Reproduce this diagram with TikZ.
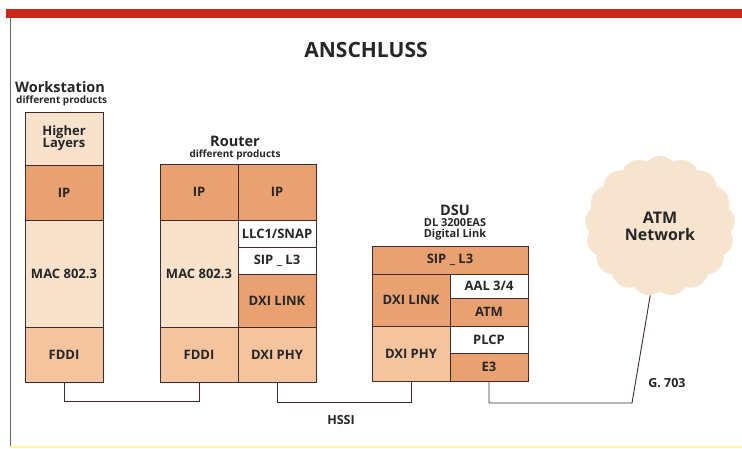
\documentclass[tikz,border=0pt]{standalone}
\usepackage{fontspec}
\setmainfont{Open Sans}
\usetikzlibrary{positioning, shapes.symbols}

\definecolor{lightfill}{HTML}{F8E2CB}
\definecolor{midfill}{HTML}{F3C49E}
\definecolor{darkfill}{HTML}{EAA172}
\definecolor{cloudfill}{HTML}{F6E4CF}
\definecolor{linebrown}{HTML}{3E2C2C}
\definecolor{barred}{HTML}{C52A1A}

\begin{document}
\begin{tikzpicture}[
                x=1pt, y=-1pt,
                cell/.style={rectangle, draw=linebrown, line width=0.7pt, inner sep=0pt, outer sep=0pt, minimum width=78pt, align=center, font=\fontsize{13}{14}\selectfont\bfseries, text=black!85},
                lightcell/.style={cell, fill=lightfill},
                midcell/.style={cell, fill=midfill},
                darkcell/.style={cell, fill=darkfill},
                whitecell/.style={cell, fill=white},
                heading/.style={font=\fontsize{14.5}{16}\selectfont\bfseries, text=black!85, inner sep=0pt},
                subheading/.style={font=\fontsize{10}{11}\selectfont\bfseries, text=black!85, inner sep=0pt},
                tag/.style={font=\fontsize{12.5}{14}\selectfont\bfseries, text=black!85},
                link/.style={draw=linebrown, line width=0.9pt},
                ]
                \useasboundingbox (0,0) rectangle (742,448);
                %Frame
                \fill[barred] (6,9) rectangle (742,18);
                \draw[black!60, line width=0.8pt] (10,18) -- (10,447);
                \draw[yellow!40, line width=1.2pt] (10,447) -- (742,447);
                \node[font=\fontsize{21}{24}\selectfont\bfseries, text=black!85] (title) at (366,50) {ANSCHLUSS};

                %Workstation
                \node[heading, anchor=west]    (wsname)  at (15,87)  {Workstation};
                \node[subheading, anchor=west] (wssub)   at (16,101) {different products};
                \node[lightcell, minimum height=53]  (wshigh)  at (64,138.5) {Higher\\[-2pt]Layers};
                \node[darkcell, minimum height=55]   (wsip)    [below=0pt of wshigh] {IP};
                \node[lightcell, minimum height=107] (wsmac)   [below=0pt of wsip] {MAC 802.3};
                \node[midcell, minimum height=55]    (wsfddi)  [below=0pt of wsmac] {FDDI};

                %Router
                \node[heading]    (rname) at (235,141) {Router};
                \node[subheading] (rsub)  at (235,155) {different products};
                \node[darkcell, minimum height=56]   (rlip)    at (199,192) {IP};
                \node[lightcell, minimum height=107] (rlmac)   [below=0pt of rlip] {MAC 802.3};
                \node[midcell, minimum height=55]    (rfddi)   [below=0pt of rlmac] {FDDI};
                \node[darkcell, minimum height=56]   (rrip)    [right=0pt of rlip] {IP};
                \node[whitecell, minimum height=27]  (rllc)    [below=0pt of rrip] {LLC1/SNAP};
                \node[whitecell, minimum height=27]  (rsip)    [below=0pt of rllc] {SIP \_ L3};
                \node[darkcell, minimum height=53]   (rlink)   [below=0pt of rsip] {DXI LINK};
                \node[midcell, minimum height=55]    (rphy)    [below=0pt of rlink] {DXI PHY};

                %DSU
                \node[heading]    (dname) at (455,210) {DSU};
                \node[subheading, font=\fontsize{11}{12}\selectfont\bfseries] (dtype) at (455,223) {DL 3200EAS};
                \node[subheading, font=\fontsize{11}{12}\selectfont\bfseries] (dmaker) at (455,235) {Digital Link};
                \node[darkcell, minimum width=156, minimum height=28] (dsip) at (450,260) {SIP \_ L3};
                \node[darkcell, minimum height=52, anchor=north west] (dlink) at (dsip.south west) {DXI LINK};
                \node[midcell, minimum height=55]    (dphy)    [below=0pt of dlink] {DXI PHY};
                \node[whitecell, minimum height=24, anchor=north east] (daal) at (dsip.south east) {AAL 3/4};
                \node[darkcell, minimum height=28]   (datm)    [below=0pt of daal] {ATM};
                \node[whitecell, minimum height=27]  (dplcp)   [below=0pt of datm] {PLCP};
                \node[darkcell, minimum height=28]   (de3)     [below=0pt of dplcp] {E3};

                %Network
                \node[cloud, cloud puffs=17, cloud puff arc=95, fill=cloudfill, minimum width=150, minimum height=140, aspect=1.05, align=center, font=\fontsize{16}{17}\selectfont\bfseries, text=black!85] (atmnet) at (660,226) {ATM\\Network};
                \coordinate (gbend) at (632,403);

                %Lines
                \draw[link] (wsfddi.south) -- ++(0,19) -| (rfddi.south);
                \draw[link] (rphy.south) -- ++(0,20) -| (dphy.south);
                \draw[link] (de3.south) |- (gbend) -- (atmnet.262);

                %Labels
                \node[tag] (hssi) at (341,420) {HSSI};
                \node[tag] (g703) at (667,383) {G. 703};
\end{tikzpicture}
\end{document}
